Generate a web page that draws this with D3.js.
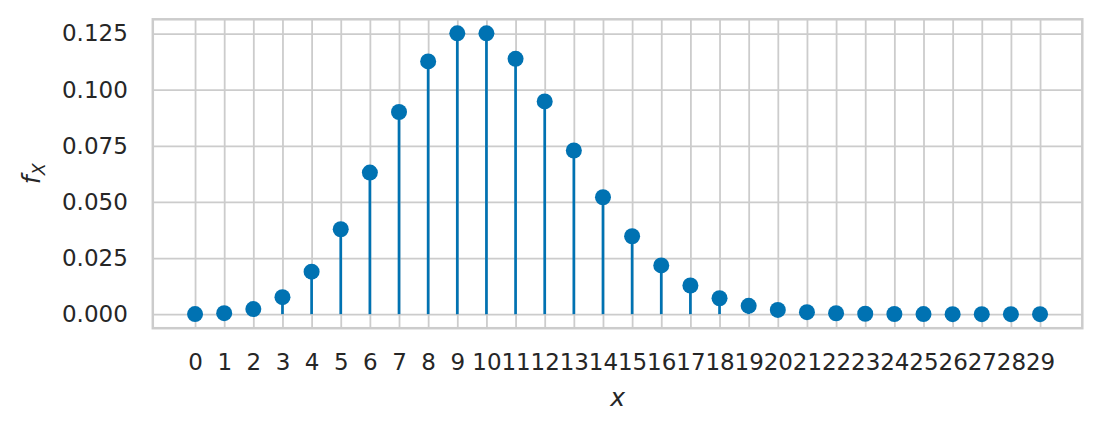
<!DOCTYPE html>
<html>
<head>
<meta charset="utf-8">
<script src="https://cdn.jsdelivr.net/npm/d3@7"></script>
<style>
  html, body { margin: 0; padding: 0; background: #fff; }
  svg { display: block; font-family: "DejaVu Sans", sans-serif; }
</style>
</head>
<body>
<svg id="chart" width="1102" height="432"></svg>
<script>
// Data
const xs = [0,1,2,3,4,5,6,7,8,9,10,11,12,13,14,15,16,17,18,19,20,21,22,23,24,25,26,27,28,29];
const fx = [0.00005,0.00045,0.00227,0.00757,0.01892,0.03783,0.06306,0.09008,0.11260,0.12511,
            0.12511,0.11374,0.09478,0.07291,0.05208,0.03472,0.02170,0.01276,0.00709,0.00373,
            0.00187,0.00089,0.00040,0.00018,0.00007,0.00003,0.00001,0.000004,0.0000015,0.0000005];
const yTicks = [0.000, 0.025, 0.050, 0.075, 0.100, 0.125];
const yTickLabels = ["0.000","0.025","0.050","0.075","0.100","0.125"];
const xTickLabels = xs.map(String);

const color = "#0072B2";
const gridColor = "#cccccc";
const textColor = "#262626";

const mLeft = 152.8, mRight = 1082.3, mTop = 19.3, mBottom = 328.2;
const tickFont = 23, labelFont = 25;

const svg = d3.select("#chart");

const ymax = d3.max(fx), ymin = 0;
const ymarg = (ymax - ymin) * 0.05;
const x = d3.scaleLinear().domain([-1.45, 30.45]).range([mLeft, mRight]);
const y = d3.scaleLinear().domain([ymin - ymarg, ymax + ymarg]).range([mBottom, mTop]);

// Grid via axes
const gx = svg.append("g").attr("transform", `translate(0,${mBottom})`)
  .call(d3.axisBottom(x).tickValues(xs).tickSize(-(mBottom - mTop)).tickFormat((d,i) => xTickLabels[i]));
gx.select(".domain").remove();
gx.selectAll(".tick line").attr("stroke", gridColor).attr("stroke-width", 1.8);
gx.selectAll(".tick text").attr("fill", textColor).attr("font-size", tickFont)
  .attr("font-family", "DejaVu Sans").attr("y", 41.8).attr("dy", 0);

const gy = svg.append("g").attr("transform", `translate(${mLeft},0)`)
  .call(d3.axisLeft(y).tickValues(yTicks).tickSize(-(mRight - mLeft)).tickFormat((d,i) => yTickLabels[i]).tickPadding(25));
gy.select(".domain").remove();
gy.selectAll(".tick line").attr("stroke", gridColor).attr("stroke-width", 1.8);
gy.selectAll(".tick text").attr("fill", textColor).attr("font-size", tickFont)
  .attr("font-family", "DejaVu Sans");

// Frame
svg.append("rect").attr("x", mLeft).attr("y", mTop).attr("width", mRight - mLeft).attr("height", mBottom - mTop)
  .attr("fill", "none").attr("stroke", gridColor).attr("stroke-width", 2.5);

// Stems
svg.append("g").selectAll("line").data(xs).join("line")
  .attr("x1", d => x(d)).attr("x2", d => x(d))
  .attr("y1", y(0)).attr("y2", (d,i) => y(fx[i]))
  .attr("stroke", color).attr("stroke-width", 2.7);

// Markers
svg.append("g").selectAll("circle").data(xs).join("circle")
  .attr("cx", d => x(d)).attr("cy", (d,i) => y(fx[i])).attr("r", 8)
  .attr("fill", color);

// Axis labels
svg.append("text").attr("x", (mLeft + mRight) / 2).attr("y", 406)
  .attr("text-anchor", "middle").attr("font-size", labelFont).attr("font-style", "italic")
  .attr("fill", textColor).text("x");

const yl = svg.append("text").attr("transform", `translate(40,${(mTop + mBottom) / 2}) rotate(-90)`)
  .attr("text-anchor", "middle").attr("fill", textColor).attr("font-size", labelFont);
yl.append("tspan").attr("font-style", "italic").text("f");
yl.append("tspan").attr("font-style", "italic").attr("font-size", 17.5).attr("dy", 5).text("X");
</script>
</body>
</html>
